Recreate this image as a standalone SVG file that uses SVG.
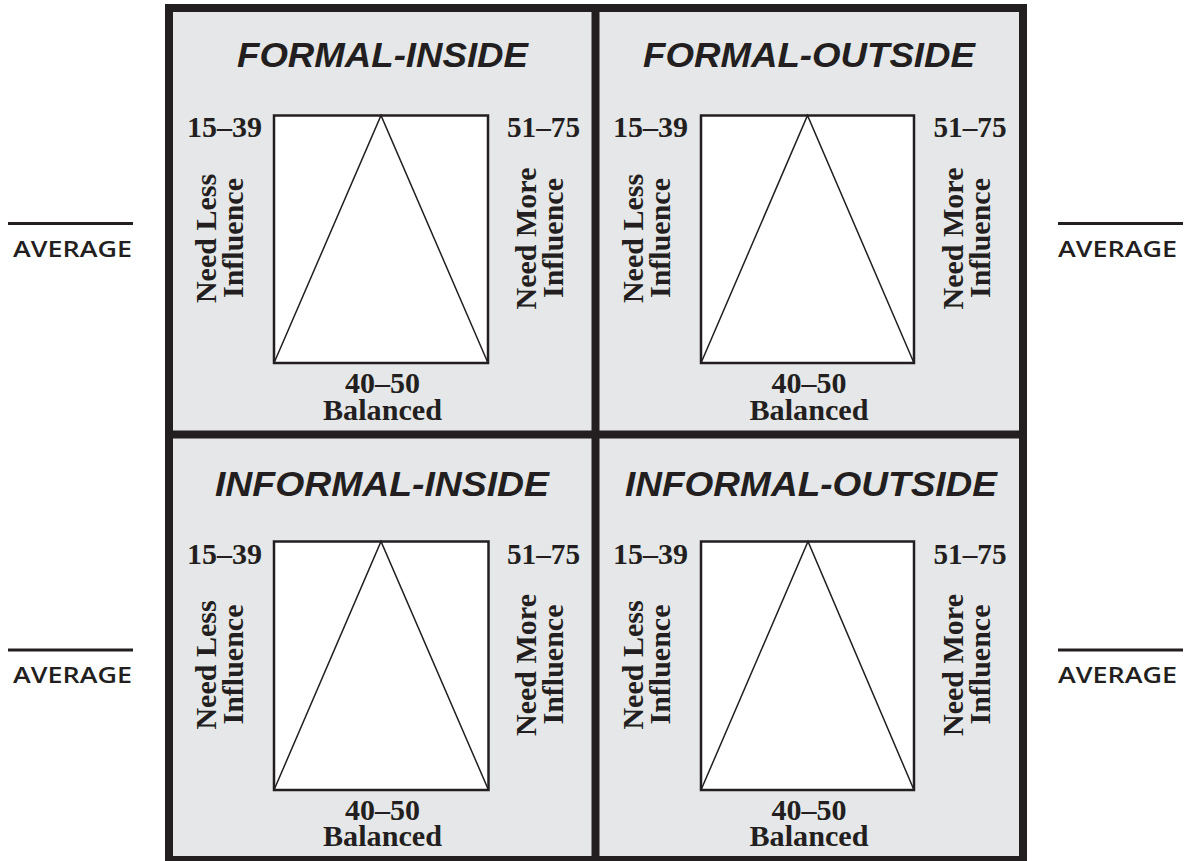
<svg xmlns="http://www.w3.org/2000/svg" width="1193" height="861" viewBox="0 0 1193 861">
<style>
.bg{fill:#ffffff}
.cell{fill:#e6e7e8}
.frame{fill:none;stroke:#231f20;stroke-width:8}
.box{fill:#ffffff;stroke:#231f20;stroke-width:2.5}
.tri{fill:none;stroke:#231f20;stroke-width:1.5;stroke-linejoin:miter}
.title{font-family:"Liberation Sans",Arial,sans-serif;font-weight:bold;font-style:italic;font-size:35px;fill:#231f20;text-anchor:middle}
.num{font-family:"Liberation Serif","Times New Roman",serif;font-weight:bold;font-size:30px;fill:#231f20;text-anchor:middle}
.avg{font-family:"Open Sans","Liberation Sans",sans-serif;font-weight:600;font-size:21px;fill:#231f20}
.rule{stroke:#231f20;stroke-width:3}
</style>
<rect class="bg" x="0" y="0" width="1193" height="861"/>
<rect class="cell" x="169" y="8" width="854" height="852"/>

<g id="formal-inside">
<text class="title" x="382.5" y="67" textLength="291" lengthAdjust="spacingAndGlyphs">FORMAL-INSIDE</text>
<text class="num" x="224.5" y="137" textLength="75" lengthAdjust="spacingAndGlyphs">15–39</text>
<text class="num" x="543.5" y="137" textLength="73" lengthAdjust="spacingAndGlyphs">51–75</text>
<rect class="box" x="274" y="115.5" width="214" height="247.5"/>
<polyline class="tri" points="274,363 381,115.5 488,363"/>
<text class="num" transform="translate(216,238.5) rotate(-90)">Need Less</text>
<text class="num" transform="translate(243,238) rotate(-90)">Influence</text>
<text class="num" transform="translate(536,238.5) rotate(-90)">Need More</text>
<text class="num" transform="translate(563,238) rotate(-90)">Influence</text>
<text class="num" x="382.5" y="393" textLength="75" lengthAdjust="spacingAndGlyphs">40–50</text>
<text class="num" x="382.5" y="420" textLength="119" lengthAdjust="spacingAndGlyphs">Balanced</text>
</g>

<g id="formal-outside">
<text class="title" x="809" y="67" textLength="332" lengthAdjust="spacingAndGlyphs">FORMAL-OUTSIDE</text>
<text class="num" x="650.5" y="137" textLength="75" lengthAdjust="spacingAndGlyphs">15–39</text>
<text class="num" x="970" y="137" textLength="73" lengthAdjust="spacingAndGlyphs">51–75</text>
<rect class="box" x="701" y="115.5" width="213" height="247.5"/>
<polyline class="tri" points="701,363 807.5,115.5 914,363"/>
<text class="num" transform="translate(643,238.5) rotate(-90)">Need Less</text>
<text class="num" transform="translate(670,238) rotate(-90)">Influence</text>
<text class="num" transform="translate(963,238.5) rotate(-90)">Need More</text>
<text class="num" transform="translate(990,238) rotate(-90)">Influence</text>
<text class="num" x="809" y="393" textLength="75" lengthAdjust="spacingAndGlyphs">40–50</text>
<text class="num" x="809" y="420" textLength="119" lengthAdjust="spacingAndGlyphs">Balanced</text>
</g>

<g id="informal-inside">
<text class="title" x="382" y="496" textLength="334" lengthAdjust="spacingAndGlyphs">INFORMAL-INSIDE</text>
<text class="num" x="224.5" y="564" textLength="75" lengthAdjust="spacingAndGlyphs">15–39</text>
<text class="num" x="543.5" y="564" textLength="73" lengthAdjust="spacingAndGlyphs">51–75</text>
<rect class="box" x="274" y="541.5" width="214.5" height="248.5"/>
<polyline class="tri" points="274,790 381,541.5 488.5,790"/>
<text class="num" transform="translate(216,665) rotate(-90)">Need Less</text>
<text class="num" transform="translate(243,664.5) rotate(-90)">Influence</text>
<text class="num" transform="translate(536,665) rotate(-90)">Need More</text>
<text class="num" transform="translate(563,664.5) rotate(-90)">Influence</text>
<text class="num" x="382.5" y="820" textLength="75" lengthAdjust="spacingAndGlyphs">40–50</text>
<text class="num" x="382.5" y="846" textLength="119" lengthAdjust="spacingAndGlyphs">Balanced</text>
</g>

<g id="informal-outside">
<text class="title" x="811" y="496" textLength="372" lengthAdjust="spacingAndGlyphs">INFORMAL-OUTSIDE</text>
<text class="num" x="650.5" y="564" textLength="75" lengthAdjust="spacingAndGlyphs">15–39</text>
<text class="num" x="970" y="564" textLength="73" lengthAdjust="spacingAndGlyphs">51–75</text>
<rect class="box" x="701" y="541.5" width="213" height="248.5"/>
<polyline class="tri" points="701,790 808,541.5 914,790"/>
<text class="num" transform="translate(643,665) rotate(-90)">Need Less</text>
<text class="num" transform="translate(670,664.5) rotate(-90)">Influence</text>
<text class="num" transform="translate(963,665) rotate(-90)">Need More</text>
<text class="num" transform="translate(990,664.5) rotate(-90)">Influence</text>
<text class="num" x="809" y="820" textLength="75" lengthAdjust="spacingAndGlyphs">40–50</text>
<text class="num" x="809" y="846" textLength="119" lengthAdjust="spacingAndGlyphs">Balanced</text>
</g>

<g id="grid">
<rect class="frame" x="169" y="8" width="854" height="852"/>
<line class="frame" x1="595.5" y1="8" x2="595.5" y2="860"/>
<line class="frame" x1="169" y1="434.5" x2="1023" y2="434.5"/>
</g>

<g id="average-left-top">
<line class="rule" x1="8" y1="223.5" x2="133" y2="223.5"/>
<text class="avg" x="13" y="257" textLength="119" lengthAdjust="spacingAndGlyphs">AVERAGE</text>
</g>
<g id="average-right-top">
<line class="rule" x1="1058" y1="223.5" x2="1183" y2="223.5"/>
<text class="avg" x="1058" y="257" textLength="119" lengthAdjust="spacingAndGlyphs">AVERAGE</text>
</g>
<g id="average-left-bottom">
<line class="rule" x1="8" y1="650" x2="133" y2="650"/>
<text class="avg" x="13" y="683" textLength="119" lengthAdjust="spacingAndGlyphs">AVERAGE</text>
</g>
<g id="average-right-bottom">
<line class="rule" x1="1058" y1="650" x2="1183" y2="650"/>
<text class="avg" x="1058" y="683" textLength="119" lengthAdjust="spacingAndGlyphs">AVERAGE</text>
</g>
</svg>
